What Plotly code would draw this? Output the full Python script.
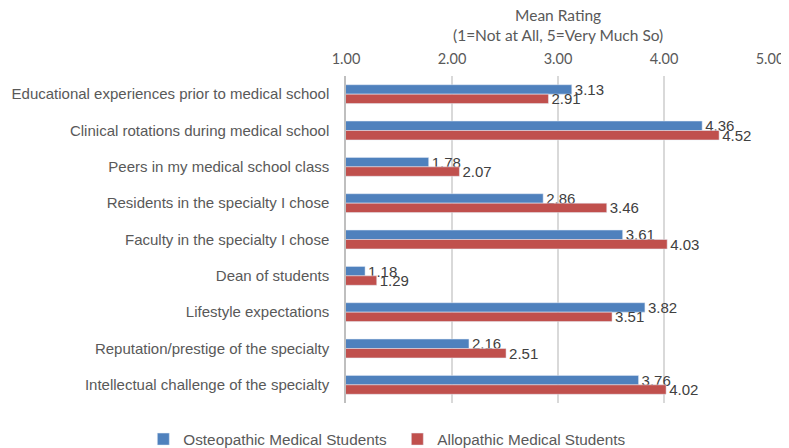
import plotly.graph_objects as go

categories = [
    "Educational experiences prior to medical school",
    "Clinical rotations during medical school",
    "Peers in my medical school class",
    "Residents in the specialty I chose",
    "Faculty in the specialty I chose",
    "Dean of students",
    "Lifestyle expectations",
    "Reputation/prestige of the specialty",
    "Intellectual challenge of the specialty",
]
osteopathic = [3.13, 4.36, 1.78, 2.86, 3.61, 1.18, 3.82, 2.16, 3.76]
allopathic = [2.91, 4.52, 2.07, 3.46, 4.03, 1.29, 3.51, 2.51, 4.02]
x_ticks = [1, 2, 3, 4, 5]

label_font = dict(family="Liberation Sans, Arial", size=15, color="#404040")

fig = go.Figure()
fig.add_trace(go.Bar(
    y=categories, x=osteopathic, orientation="h",
    name="Osteopathic Medical Students", marker_color="#4F81BD",
    text=["%.2f" % v for v in osteopathic], textposition="outside",
    textfont=label_font, constraintext="none", cliponaxis=False,
))
fig.add_trace(go.Bar(
    y=categories, x=allopathic, orientation="h",
    name="Allopathic Medical Students", marker_color="#C0504D",
    text=["%.2f" % v for v in allopathic], textposition="outside",
    textfont=label_font, constraintext="none", cliponaxis=False,
))

# axis title, drawn as an annotation above the top tick labels
fig.add_annotation(
    text="Mean Rating<br>(1=Not at All, 5=Very Much So)",
    xref="paper", x=0.5, xanchor="center",
    yref="paper", y=1, yanchor="bottom", yshift=30,
    showarrow=False,
    font=dict(family="Lato, Open Sans", size=15.5, color="#595959"),
)

# page has a small body margin, so the figure is a bit smaller than the window
fig.update_layout(
    width=781, height=440,
    margin=dict(l=338, r=19, t=68, b=45, autoexpand=False),
    barmode="group", bargap=0.48, bargroupgap=0,
    plot_bgcolor="white", paper_bgcolor="white",
    font=dict(family="Liberation Sans, Arial", size=15, color="#595959"),
    legend=dict(orientation="h", x=-0.478, xanchor="left",
                y=-0.06, yanchor="top", itemwidth=30,
                entrywidth=209, entrywidthmode="pixels",
                font=dict(size=15.3, color="#595959"), traceorder="normal"),
)
fig.update_xaxes(
    side="top", range=[1, 5], tickvals=x_ticks,
    ticktext=["%.2f" % t for t in x_ticks], automargin=False,
    tickfont=dict(family="Lato, Open Sans", size=14.5, color="#595959"),
    showgrid=True, gridcolor="#d9d9d9", gridwidth=1.5,
    zeroline=False, showline=False, ticklabelstandoff=8,
)
fig.update_yaxes(
    autorange="reversed", showline=True, linecolor="#bfbfbf", linewidth=1.5,
    ticks="", showgrid=False, automargin=False, ticklabelstandoff=12,
    tickfont=dict(size=15, color="#595959"),
)

fig.write_html("out.html")
